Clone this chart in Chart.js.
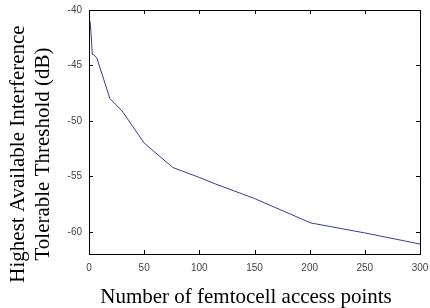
<!DOCTYPE html>
<html>
<head>
<meta charset="utf-8">
<script src="https://cdn.jsdelivr.net/npm/chart.js@4/dist/chart.umd.min.js"></script>
<style>
  html, body { margin: 0; padding: 0; background: #fff; }
  #wrap { width: 430px; height: 308px; }
</style>
</head>
<body>
<div id="wrap"><canvas id="chart" width="430" height="308"></canvas></div>
<script>
/* data */
const femtoCount = [1, 2, 3, 4, 7, 19, 30, 50, 76, 100, 115, 150, 201, 250, 300];
const thresholdDb = [-41, -42.3, -44, -44, -44.3, -48, -49.1, -52, -54.2, -55.1, -55.7, -57, -59.2, -60.1, -61.1];
const xTicks = [0, 50, 100, 150, 200, 250, 300];
const yTicks = [-60, -55, -50, -45, -40];
const xTitle = 'Number of femtocell access points';
const yTitle = ['Highest Available Interference', 'Tolerable Threshold (dB)'];

const TITLE_FONT = '21px "Liberation Serif", "Times New Roman", serif';

/* matlab-ish box + inward ticks + axis titles */
const boxPlugin = {
  id: 'box',
  afterDraw(chart) {
    const { ctx, chartArea: a, scales } = chart;
    ctx.save();
    ctx.strokeStyle = '#000';
    ctx.lineWidth = 1;
    ctx.strokeRect(a.left + 0.5, a.top + 0.5, a.right - a.left, a.bottom - a.top);
    ctx.beginPath();
    xTicks.forEach(v => {
      const x = Math.round(scales.x.getPixelForValue(v)) + 0.5;
      ctx.moveTo(x, a.bottom); ctx.lineTo(x, a.bottom - 4);
      ctx.moveTo(x, a.top); ctx.lineTo(x, a.top + 4);
    });
    yTicks.forEach(v => {
      const y = Math.round(scales.y.getPixelForValue(v)) + 0.5;
      ctx.moveTo(a.left, y); ctx.lineTo(a.left + 4, y);
      ctx.moveTo(a.right, y); ctx.lineTo(a.right - 4, y);
    });
    ctx.stroke();

    // titles
    ctx.fillStyle = '#000';
    ctx.font = TITLE_FONT;
    ctx.textAlign = 'center';
    ctx.textBaseline = 'alphabetic';
    ctx.fillText(xTitle, 246, 303);

    ctx.translate(0, 154);
    ctx.rotate(-Math.PI / 2);
    ctx.textBaseline = 'middle';
    ctx.fillText(yTitle[0], 0, 18);
    ctx.fillText(yTitle[1], 0, 43);
    ctx.restore();
  }
};

new Chart(document.getElementById('chart'), {
  type: 'line',
  data: {
    datasets: [{
      data: femtoCount.map((x, i) => ({ x, y: thresholdDb[i] })),
      borderColor: '#3a3a9a',
      borderWidth: 1,
      pointRadius: 0,
      tension: 0,
    }]
  },
  options: {
    responsive: false,
    animation: false,
    layout: { padding: { left: 0, right: 10, top: 10, bottom: 0 } },
    plugins: { legend: { display: false }, tooltip: { enabled: false } },
    scales: {
      x: {
        type: 'linear', min: 0, max: 300,
        afterBuildTicks: s => { s.ticks = xTicks.map(value => ({ value })); },
        afterFit: s => { s.height = 54; s.paddingLeft = 0; s.paddingRight = 0; },
        grid: { display: false, drawTicks: false },
        border: { display: false },
        ticks: { color: '#444', padding: 8, font: { family: 'Liberation Sans', size: 10 } }
      },
      y: {
        type: 'linear', min: -62, max: -40,
        afterBuildTicks: s => { s.ticks = yTicks.map(value => ({ value })); },
        afterFit: s => { s.width = 89; s.paddingTop = 0; s.paddingBottom = 0; },
        grid: { display: false, drawTicks: false },
        border: { display: false },
        ticks: { color: '#444', padding: 7, font: { family: 'Liberation Sans', size: 10 } }
      }
    }
  },
  plugins: [boxPlugin]
});
</script>
</body>
</html>
